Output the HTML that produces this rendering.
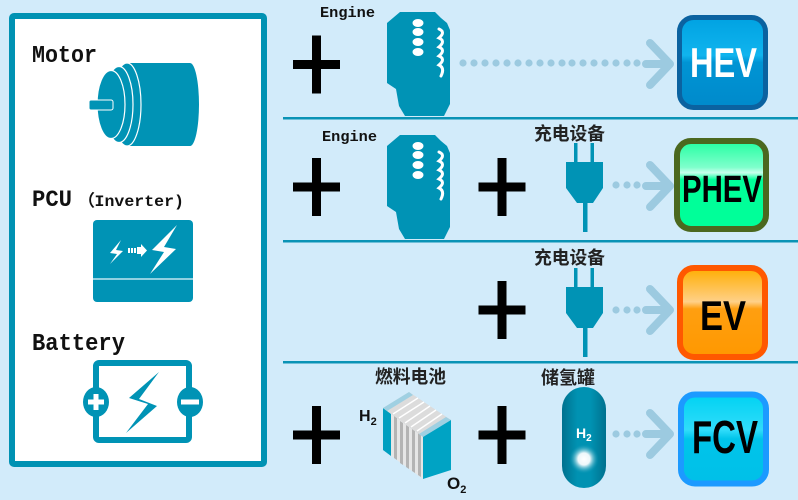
<!DOCTYPE html>
<html><head><meta charset="utf-8"><style>
html,body{margin:0;padding:0;background:#d2ebfa;}
svg{display:block;}
.lbl{font-family:"Liberation Mono",monospace;font-weight:bold;fill:#111;}
.cjk{font-family:"Liberation Sans","Noto Sans CJK SC",sans-serif;font-weight:bold;fill:#222;}
</style></head><body>
<svg width="798" height="500" viewBox="0 0 798 500" xmlns="http://www.w3.org/2000/svg">
<defs>
<linearGradient id="gHEV" x1="0" y1="0" x2="0" y2="1">
<stop offset="0" stop-color="#00a2e2"/><stop offset="0.42" stop-color="#10b4ee"/><stop offset="0.5" stop-color="#0094d4"/><stop offset="1" stop-color="#008acb"/></linearGradient>
<linearGradient id="gPHEV" x1="0" y1="0" x2="0" y2="1">
<stop offset="0" stop-color="#22ffa0"/><stop offset="0.3" stop-color="#7fffcc"/><stop offset="0.36" stop-color="#c8ffec"/><stop offset="0.44" stop-color="#00ff99"/><stop offset="1" stop-color="#00ff99"/></linearGradient>
<linearGradient id="gEV" x1="0" y1="0" x2="0" y2="1">
<stop offset="0" stop-color="#ffad00"/><stop offset="0.38" stop-color="#ffd088"/><stop offset="0.46" stop-color="#ff9f10"/><stop offset="1" stop-color="#ff9800"/></linearGradient>
<linearGradient id="gFCV" x1="0" y1="0" x2="0" y2="1">
<stop offset="0" stop-color="#00d2f2"/><stop offset="0.4" stop-color="#30dcfa"/><stop offset="0.5" stop-color="#00c4ea"/><stop offset="1" stop-color="#00c0e8"/></linearGradient>
<linearGradient id="gTank" x1="0" y1="0" x2="1" y2="0">
<stop offset="0" stop-color="#00718e"/><stop offset="0.35" stop-color="#0092b2"/><stop offset="0.65" stop-color="#0092b2"/><stop offset="1" stop-color="#00718e"/></linearGradient>
<radialGradient id="gBall" cx="0.5" cy="0.5" r="0.5">
<stop offset="0" stop-color="#ffffff"/><stop offset="0.4" stop-color="#eef7fa"/><stop offset="1" stop-color="#0092b2" stop-opacity="0"/></radialGradient>
<g id="engine">
<path d="M400,12 L435,12 L441,18 L447,23 L450,30 L450,104 L444,116 L405,116 L399,106 L396,89 L387,83 L387,23 Z" fill="#0093b5"/>
<ellipse cx="418" cy="23" rx="5.5" ry="4" fill="#fff"/>
<ellipse cx="418" cy="32" rx="5.5" ry="4" fill="#fff"/>
<ellipse cx="418" cy="42" rx="5.5" ry="4" fill="#fff"/>
<ellipse cx="418" cy="52" rx="5.5" ry="4" fill="#fff"/>
<path d="M439,29 q7,3 0,9 q7,3 0,9 q7,3 0,9 q7,3 0,9 q6,3 2,11" fill="none" stroke="#fff" stroke-width="3" stroke-linecap="round"/>
</g>
<g id="plus">
<rect x="-23.5" y="-4.5" width="47" height="9" fill="#000"/>
<rect x="-4.5" y="-29" width="9" height="58" fill="#000"/>
</g>
<g id="plug">
<rect x="574" y="143" width="3.5" height="20" fill="#0093b5"/>
<rect x="590.5" y="143" width="3.5" height="20" fill="#0093b5"/>
<path d="M566,162 L603,162 L603,188 L593,203 L577,203 L566,188 Z" fill="#0093b5"/>
<rect x="583" y="202" width="4.5" height="30" fill="#0093b5"/>
</g>
<g id="arrow" fill="none" stroke="#9ccae0" stroke-width="8" stroke-linecap="round" stroke-linejoin="round">
<path d="M646,0 L668,0 M650,-21 L670,0 L650,21"/>
</g>
</defs>

<rect width="798" height="500" fill="#d2ebfa"/>

<!-- left panel -->
<rect x="12" y="16" width="252" height="448" rx="2" fill="#fff" stroke="#0092b3" stroke-width="6"/>

<text class="lbl" x="32" y="62" font-size="24" textLength="65" lengthAdjust="spacingAndGlyphs">Motor</text>
<!-- motor -->
<g>
<path d="M127,63 L190,63 A9,41.5 0 0 1 190,146 L127,146 Z" fill="#0093b5"/>
<ellipse cx="127" cy="104.5" rx="14" ry="41.5" fill="#0093b5" stroke="#fff" stroke-width="1.2"/>
<ellipse cx="119" cy="104.5" rx="14" ry="38" fill="#0093b5" stroke="#fff" stroke-width="1.2"/>
<ellipse cx="111" cy="104.5" rx="14" ry="34" fill="#0093b5" stroke="#fff" stroke-width="1.2"/>
<rect x="89" y="100" width="24" height="10" rx="2" fill="#0093b5" stroke="#fff" stroke-width="1"/>
</g>

<text class="lbl" x="32" y="206" font-size="23" textLength="40" lengthAdjust="spacingAndGlyphs">PCU</text>
<text class="lbl" x="78" y="206" font-size="16" textLength="106" lengthAdjust="spacingAndGlyphs">（Inverter)</text>
<!-- PCU icon -->
<g>
<rect x="93" y="220" width="100" height="82" rx="4" fill="#0093b5"/>
<line x1="93" y1="279" x2="193" y2="279" stroke="#bfe6f0" stroke-width="1.5"/>
<path d="M121,240 L110,253 L117,254 L110,264 L123,251 L116,250 Z" fill="#fff"/>
<rect x="128" y="248" width="2" height="5" fill="#fff"/>
<rect x="131" y="248" width="2" height="5" fill="#fff"/>
<rect x="134" y="248" width="2" height="5" fill="#fff"/>
<path d="M137,247 L141,247 L141,244 L147,250.5 L141,257 L141,254 L137,254 Z" fill="#fff"/>
<path d="M177,225 L152,250 L164,252 L150,274 L176,249 L164,247 Z" fill="#fff"/>
</g>

<text class="lbl" x="32" y="350" font-size="24" textLength="93" lengthAdjust="spacingAndGlyphs">Battery</text>
<!-- battery -->
<g>
<rect x="96" y="363" width="93" height="77" rx="3" fill="#fff" stroke="#0093b5" stroke-width="6"/>
<ellipse cx="96" cy="402" rx="13" ry="15" fill="#0093b5"/>
<ellipse cx="190" cy="402" rx="13" ry="15" fill="#0093b5"/>
<rect x="88" y="399.5" width="16" height="5" fill="#fff"/>
<rect x="93.5" y="394" width="5" height="16" fill="#fff"/>
<rect x="181" y="399.5" width="18" height="5" fill="#fff"/>
<path d="M159,372 L129,398 L148,404 L126,433 L157,406 L139,399 Z" fill="#0093b5"/>
</g>

<!-- separators -->
<rect x="283" y="117" width="515" height="2.5" fill="#0a93b5"/>
<rect x="283" y="240" width="515" height="2.5" fill="#0a93b5"/>
<rect x="283" y="361" width="515" height="2.5" fill="#0a93b5"/>

<!-- Row 1 HEV -->
<text class="lbl" x="320" y="17" font-size="15" textLength="55" lengthAdjust="spacingAndGlyphs">Engine</text>
<use href="#plus" transform="translate(316.5,64.5)"/>
<use href="#engine"/>
<g fill="#9ccae0">
<circle cx="463" cy="63" r="3.6"/><circle cx="474" cy="63" r="3.6"/><circle cx="485" cy="63" r="3.6"/><circle cx="496" cy="63" r="3.6"/><circle cx="507" cy="63" r="3.6"/><circle cx="518" cy="63" r="3.6"/><circle cx="529" cy="63" r="3.6"/><circle cx="540" cy="63" r="3.6"/><circle cx="551" cy="63" r="3.6"/><circle cx="562" cy="63" r="3.6"/><circle cx="572" cy="63" r="3.6"/><circle cx="583" cy="63" r="3.6"/><circle cx="594" cy="63" r="3.6"/><circle cx="605" cy="63" r="3.6"/><circle cx="616" cy="63" r="3.6"/><circle cx="627" cy="63" r="3.6"/><circle cx="637" cy="63" r="3.6"/>
</g>
<use href="#arrow" transform="translate(0,64)"/>
<rect x="679.5" y="17.5" width="86" height="90" rx="14" fill="url(#gHEV)" stroke="#0b62a0" stroke-width="5"/>
<text x="690" y="77" font-family="Liberation Sans, Arial, sans-serif" font-weight="bold" font-size="42" fill="#fff" textLength="67" lengthAdjust="spacingAndGlyphs">HEV</text>

<!-- Row 2 PHEV -->
<text class="lbl" x="322" y="141" font-size="15" textLength="55" lengthAdjust="spacingAndGlyphs">Engine</text>
<use href="#plus" transform="translate(316.5,187)"/>
<use href="#engine" transform="translate(0,123)"/>
<use href="#plus" transform="translate(502,187)"/>
<text class="cjk" x="534" y="140" font-size="18" textLength="71" lengthAdjust="spacingAndGlyphs">充电设备</text>
<use href="#plug"/>
<g fill="#9ccae0"><circle cx="616" cy="185" r="3.6"/><circle cx="627" cy="185" r="3.6"/><circle cx="637" cy="185" r="3.6"/></g>
<use href="#arrow" transform="translate(0,186)"/>
<rect x="677" y="141" width="89" height="88" rx="14" fill="url(#gPHEV)" stroke="#4b681f" stroke-width="6"/>
<text x="682" y="202" font-family="Liberation Sans, Arial, sans-serif" font-weight="bold" font-size="38" fill="#000" textLength="80" lengthAdjust="spacingAndGlyphs">PHEV</text>

<!-- Row 3 EV -->
<use href="#plus" transform="translate(502,310)"/>
<text class="cjk" x="534" y="264" font-size="18" textLength="71" lengthAdjust="spacingAndGlyphs">充电设备</text>
<use href="#plug" transform="translate(0,125)"/>
<g fill="#9ccae0"><circle cx="616" cy="310" r="3.6"/><circle cx="627" cy="310" r="3.6"/><circle cx="637" cy="310" r="3.6"/></g>
<use href="#arrow" transform="translate(0,310)"/>
<rect x="680" y="268" width="85" height="89" rx="14" fill="url(#gEV)" stroke="#ff5800" stroke-width="6"/>
<text x="700" y="330" font-family="Liberation Sans, Arial, sans-serif" font-weight="bold" font-size="42" fill="#000" textLength="46" lengthAdjust="spacingAndGlyphs">EV</text>

<!-- Row 4 FCV -->
<use href="#plus" transform="translate(316.5,435)"/>
<text class="cjk" x="375" y="383" font-size="18" textLength="71" lengthAdjust="spacingAndGlyphs">燃料电池</text>
<!-- fuel cell -->
<g>
<text x="359" y="421" font-family="Liberation Sans,sans-serif" font-weight="bold" font-size="16" fill="#111">H<tspan font-size="11" dy="4">2</tspan></text>
<text x="447" y="489" font-family="Liberation Sans,sans-serif" font-weight="bold" font-size="17" fill="#111">O<tspan font-size="11" dy="4">2</tspan></text>
<path d="M383,408 L423,437 L423,479 L383,450 Z" fill="#e6e6e6"/>
<path d="M383,408 L391,414 L391,456 L383,450 Z" fill="#009fc0"/>
<g fill="#b4b4b4">
<path d="M394,416 L397,418 L397,460 L394,458 Z"/>
<path d="M400,421 L403,423 L403,465 L400,463 Z"/>
<path d="M406,425 L409,427 L409,469 L406,467 Z"/>
<path d="M412,429 L415,431 L415,473 L412,471 Z"/>
<path d="M418,433 L421,435 L421,477 L418,475 Z"/>
</g>
<path d="M383,408 L409,392 L451,420 L423,437 Z" fill="#dcdcdc"/>
<path d="M383,408 L409,392 L413,395 L387,411 Z" fill="#9fd0e2"/>
<path d="M419,434 L446,417 L451,420 L423,437 Z" fill="#9fd0e2"/>
<g stroke="#ffffff" stroke-width="1.5">
<line x1="393" y1="414" x2="418" y2="398"/><line x1="399" y1="418" x2="424" y2="402"/><line x1="405" y1="423" x2="430" y2="406"/><line x1="411" y1="427" x2="436" y2="410"/><line x1="417" y1="431" x2="442" y2="414"/>
</g>
<path d="M423,437 L451,420 L451,470 L423,479 Z" fill="#00a3c4"/>
</g>
<use href="#plus" transform="translate(502,435)"/>
<text class="cjk" x="541" y="384" font-size="18" textLength="54" lengthAdjust="spacingAndGlyphs">储氢罐</text>
<!-- tank -->
<rect x="562" y="387" width="44" height="101" rx="22" fill="url(#gTank)"/>
<text x="576" y="438" font-family="Liberation Sans,sans-serif" font-weight="bold" font-size="14" fill="#fff">H<tspan font-size="10" dy="3">2</tspan></text>
<circle cx="584" cy="459" r="15" fill="url(#gBall)"/>
<g fill="#9ccae0"><circle cx="616" cy="434" r="3.6"/><circle cx="627" cy="434" r="3.6"/><circle cx="637" cy="434" r="3.6"/></g>
<use href="#arrow" transform="translate(0,434)"/>
<rect x="681" y="394.5" width="85" height="89" rx="14" fill="url(#gFCV)" stroke="#1c9aff" stroke-width="6"/>
<text x="692" y="453" font-family="Liberation Sans, Arial, sans-serif" font-weight="bold" font-size="46" fill="#000" textLength="66" lengthAdjust="spacingAndGlyphs">FCV</text>
</svg>
</body></html>
